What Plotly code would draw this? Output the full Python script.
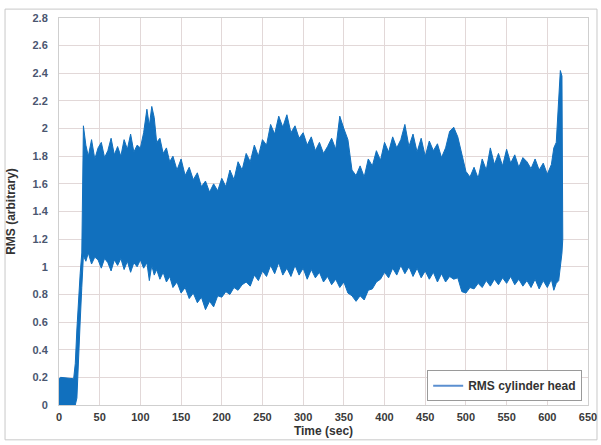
import plotly.graph_objects as go

# ---- data ----
time_sec = [0, 2, 18, 20, 22, 24, 26, 28, 29, 30,
            33, 36, 40, 44, 48, 52, 56, 60, 64, 68,
            72, 76, 80, 84, 88, 92, 96, 100, 104, 108,
            111, 114, 117, 120, 124, 128, 132, 136, 140, 145,
            150, 155, 160, 165, 170, 175, 180, 185, 190, 195,
            200, 205, 210, 215, 220, 225, 230, 235, 240, 245,
            250, 255, 260, 265, 270, 275, 280, 285, 290, 295,
            300, 305, 310, 315, 320, 325, 330, 335, 340, 345,
            350, 355, 360, 365, 370, 375, 380, 385, 390, 395,
            400, 405, 410, 415, 420, 425, 430, 435, 440, 445,
            450, 455, 460, 465, 470, 475, 480, 485, 490, 495,
            500, 505, 510, 515, 520, 525, 530, 535, 540, 545,
            550, 555, 560, 565, 570, 575, 580, 585, 590, 595,
            600, 605, 608, 611, 614, 616, 618, 619]

rms_upper = [0.19, 0.20, 0.19, 0.30, 0.55, 0.80, 0.95, 1.10, 1.50, 2.02,
             1.88, 1.80, 1.92, 1.78, 1.86, 1.90, 1.79, 1.84, 1.93, 1.81,
             1.87, 1.80, 1.92, 1.85, 1.96, 1.83, 1.88, 1.86, 1.97, 2.14,
             2.02, 2.16, 2.08, 1.90, 1.93, 1.82, 1.86, 1.76, 1.80, 1.70,
             1.78, 1.66, 1.72, 1.63, 1.68, 1.58, 1.62, 1.54, 1.60, 1.55,
             1.64, 1.58, 1.70, 1.63, 1.76, 1.70, 1.82, 1.76, 1.88, 1.80,
             1.92, 1.88, 2.03, 1.96, 2.09, 2.01, 2.10, 1.97, 2.02, 1.93,
             1.97, 1.88, 1.94, 1.84, 1.90, 1.82, 1.87, 1.93, 1.85, 2.09,
             2.00, 1.92, 1.70, 1.66, 1.73, 1.65, 1.78, 1.73, 1.84, 1.77,
             1.90, 1.83, 1.94, 1.86, 1.92, 2.03, 1.87, 1.96, 1.83, 1.93,
             1.80, 1.91, 1.84, 1.89, 1.79, 1.86, 1.98, 2.01, 1.94, 1.82,
             1.69, 1.65, 1.72, 1.64, 1.78, 1.70, 1.86, 1.74, 1.82, 1.73,
             1.85, 1.75, 1.81, 1.72, 1.79, 1.76, 1.71, 1.78, 1.70, 1.75,
             1.67, 1.74, 1.86, 1.90, 2.20, 2.42, 2.38, 1.60]

rms_lower = [0.00, 0.00, 0.00, 0.00, 0.05, 0.30, 0.60, 0.85, 1.00, 1.08,
             1.04, 1.10, 1.02, 1.07, 1.05, 0.99, 1.06, 1.03, 0.97, 1.05,
             1.01, 1.06, 0.98, 1.04, 0.96, 1.03, 1.00, 1.05, 0.99, 1.03,
             0.90, 1.01, 0.94, 0.98, 0.91, 0.96, 0.89, 0.93, 0.85, 0.89,
             0.81, 0.85, 0.77, 0.81, 0.74, 0.78, 0.69, 0.75, 0.71, 0.79,
             0.78, 0.82, 0.80, 0.85, 0.83, 0.87, 0.89, 0.86, 0.94, 0.90,
             0.97, 0.93, 1.01, 0.95, 1.03, 0.94, 0.99, 0.93, 1.01, 0.94,
             0.99, 0.91, 0.98, 0.92, 0.96, 0.89, 0.93, 0.87, 0.91, 0.85,
             0.89, 0.81, 0.79, 0.75, 0.79, 0.76, 0.83, 0.84, 0.89, 0.91,
             0.96, 0.92, 0.99, 0.94, 1.01, 0.95, 1.00, 0.93, 0.99, 0.92,
             0.97, 0.91, 0.96, 0.89, 0.95, 0.89, 0.93, 0.91, 0.92, 0.82,
             0.81, 0.85, 0.84, 0.88, 0.85, 0.90, 0.86, 0.91, 0.87, 0.92,
             0.88, 0.93, 0.87, 0.91, 0.86, 0.90, 0.85, 0.91, 0.84, 0.90,
             0.85, 0.91, 0.83, 0.88, 0.90, 1.00, 1.10, 1.20]

series_name = "RMS cylinder head"
x_ticks = list(range(0, 651, 50))
y_ticks = [round(0.2 * i, 1) for i in range(15)]

assert len(time_sec) == len(rms_upper) == len(rms_lower)

BLUE = "#1170be"
FONT = "Liberation Sans, Arial, sans-serif"
GRID = "#e2d8d8"

fig = go.Figure()

# envelope band of the dense RMS signal
fig.add_trace(go.Scatter(
    x=time_sec + time_sec[::-1],
    y=rms_upper + rms_lower[::-1],
    mode="lines",
    fill="toself",
    fillcolor=BLUE,
    line=dict(color=BLUE, width=1),
    showlegend=False,
    hoverinfo="skip",
))

# legend entry
fig.add_trace(go.Scatter(
    x=[None], y=[None], mode="lines",
    line=dict(color="#5b8fd0", width=2),
    name=series_name,
))

fig.update_layout(
    width=601, height=445,
    margin=dict(l=59, r=13, t=18, b=40),
    paper_bgcolor="white",
    plot_bgcolor="white",
    font=dict(family=FONT, size=11, color="#444444"),
    legend=dict(
        x=0.989, xanchor="right", y=0.01, yanchor="bottom",
        bordercolor="#9a9a9a", borderwidth=1, bgcolor="white",
        font=dict(family=FONT, size=12, color="#333333", weight="bold"),
        itemwidth=30, tracegroupgap=0,
    ),
    shapes=[dict(
        type="rect", xref="paper", yref="paper",
        x0=-0.102, x1=1.017, y0=-0.09, y1=1.023,
        line=dict(color="#c8c8c8", width=1), layer="below",
    )],
)

fig.update_xaxes(
    range=[0, 650], tickvals=x_ticks, automargin=False,
    showgrid=True, gridcolor=GRID, gridwidth=1,
    showline=True, linecolor="#cfcfcf", mirror=True,
    ticks="", zeroline=False, ticklabelstandoff=2,
    tickfont=dict(family=FONT, size=11, color="#3a3a3a", weight="bold"),
    title=dict(text="Time (sec)", standoff=4,
               font=dict(family=FONT, size=12, color="#333333", weight="bold")),
)
fig.update_yaxes(
    range=[0, 2.8], tickvals=y_ticks, automargin=False,
    showgrid=True, gridcolor=GRID, gridwidth=1,
    showline=True, linecolor="#cfcfcf", mirror=True,
    ticks="", zeroline=False, ticklabelstandoff=8,
    tickfont=dict(family=FONT, size=11, color="#4a5670", weight="bold"),
    title=dict(text="RMS (arbitrary)", standoff=14,
               font=dict(family=FONT, size=12, color="#333333", weight="bold")),
)

fig.write_html("out.html")
